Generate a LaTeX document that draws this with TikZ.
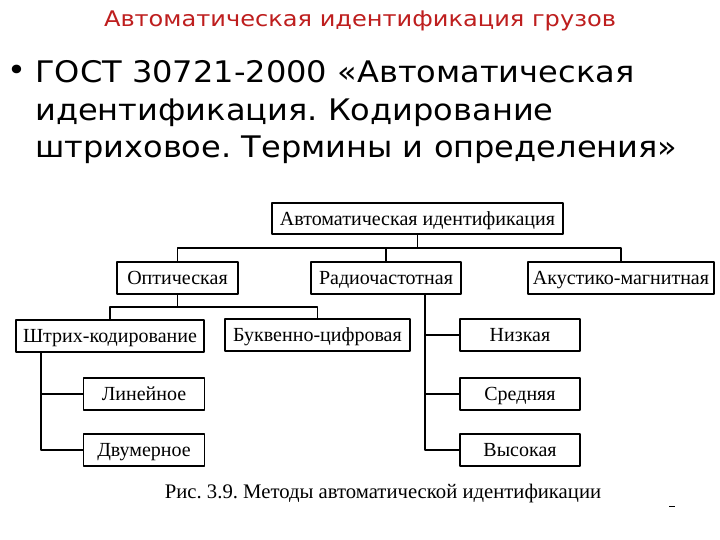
\documentclass[tikz,border=0pt]{standalone}
\usepackage{fontspec}
\setmainfont{Liberation Serif}
\newfontfamily\mygdtitle[FakeStretch=1.12]{DejaVu Sans}
\newfontfamily\mygdsans[FakeStretch=1.08]{DejaVu Sans}
\definecolor{mygdred}{RGB}{190,30,30}
\frenchspacing

\begin{document}
\begin{tikzpicture}[x=1pt,y=-1pt,line join=round,
    mygdbox/.style={draw,line width=1.4pt,inner sep=0pt,minimum height=32pt,text height=13.3pt,text depth=0pt,font=\fontsize{20}{24}\selectfont},
    mygdline/.style={line width=1.2pt}]
  \useasboundingbox[fill=white] (0,0) rectangle (720,540);
  \def\mygdw{120}\def\mygdxl{144}\def\mygdxr{520}
  \def\mygdya{335}\def\mygdyb{394}\def\mygdyc{450}
  % heading and bullet
  \node[anchor=base,inner sep=0pt,text=mygdred,font=\mygdtitle\fontsize{21.5}{26}\selectfont] (ntitle) at (360,27) {Автоматическая идентификация грузов};
  \node[inner sep=0pt,font=\mygdsans\fontsize{29.7}{37.5}\selectfont] (nbullet) at (17,73) {•};
  \node[anchor=north west,align=left,inner sep=0pt,font=\mygdsans\fontsize{29.7}{37.5}\selectfont] (ngost) at (35,60.3) {ГОСТ 30721-2000 «Автоматическая\\идентификация. Кодирование\\штриховое. Термины и определения»};
  % boxes
  \node[mygdbox,minimum width=291pt,minimum height=31pt] (nauto) at (417.5,218.5) {Автоматическая идентификация};
  \node[mygdbox,minimum width=121pt] (nopt) at (177.5,278) {Оптическая};
  \node[mygdbox,minimum width=150pt] (nrad) at (386,278) {Радиочастотная};
  \node[mygdbox,minimum width=186pt] (nacu) at (621,278) {Акустико-магнитная};
  \node[mygdbox,minimum width=188pt] (nshtr) at (110,336) {Штрих-кодирование};
  \node[mygdbox,minimum width=185pt] (nbukv) at (317.5,335) {Буквенно-цифровая};
  \node[mygdbox,minimum width=121pt] (nlin) at (\mygdxl,\mygdyb) {Линейное};
  \node[mygdbox,minimum width=121pt] (ndvu) at (\mygdxl,\mygdyc) {Двумерное};
  \node[mygdbox,minimum width=\mygdw pt] (nniz) at (\mygdxr,\mygdya) {Низкая};
  \node[mygdbox,minimum width=\mygdw pt] (nsred) at (\mygdxr,\mygdyb) {Средняя};
  \node[mygdbox,minimum width=\mygdw pt] (nvys) at (\mygdxr,\mygdyc) {Высокая};
  % connectors
  \coordinate (nbusa) at (417.5,248);
  \coordinate (nbusb) at (177.5,307);
  \coordinate (nstema) at ([xshift=-69pt]nshtr.south);
  \coordinate (nstemb) at ([xshift=39pt]nrad.south);
  \draw[mygdline] (nauto) -- (nbusa);
  \draw[mygdline] (nopt) |- (nbusa) -| (nacu);
  \draw[mygdline] (nrad) -- (nrad |- nbusa);
  \draw[mygdline] (nopt) -- (nbusb);
  \draw[mygdline] (nshtr) |- (nbusb) -| (nbukv);
  \draw[mygdline] (nstema) |- (nlin);
  \draw[mygdline] (nstema) |- (ndvu);
  \foreach \n in {nniz,nsred,nvys} \draw[mygdline] (nstemb) |- (\n);
  % caption
  \node[font=\fontsize{20.7}{24}\selectfont] (ncap) at (383,494) {Рис. 3.9. Методы автоматической идентификации};
  \draw[line width=0.8pt] (669,506) -- (675,506);
\end{tikzpicture}
\end{document}
